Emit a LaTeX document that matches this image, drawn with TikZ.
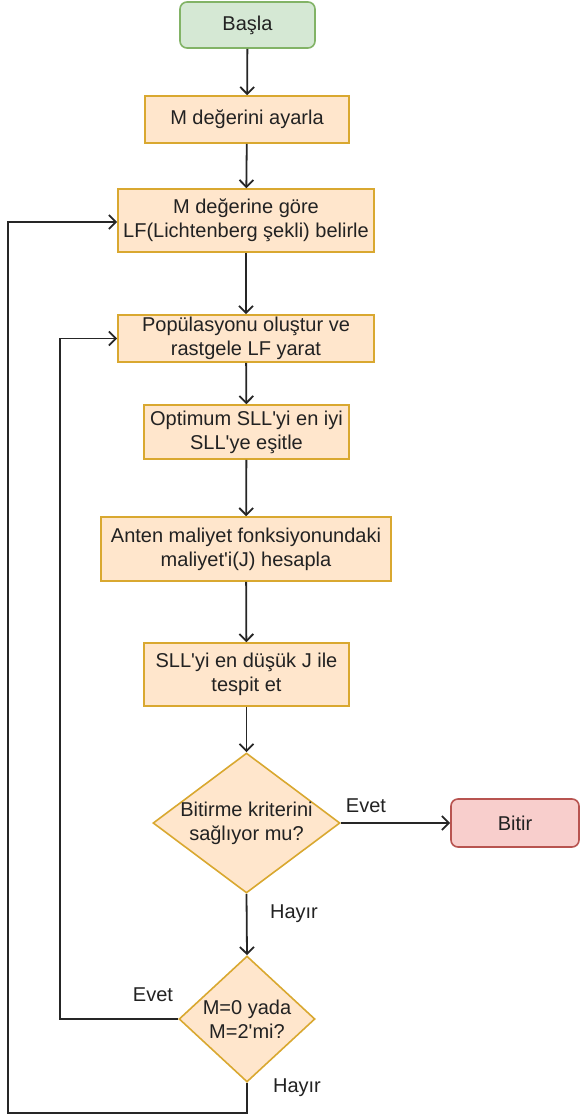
\documentclass[tikz,border=0pt]{standalone}
\usepackage{fontspec}
\setmainfont{Liberation Sans}
\usetikzlibrary{arrows.meta,shapes.geometric}

\definecolor{procfill}{HTML}{FFE6CC}
\definecolor{procline}{HTML}{D9A830}
\definecolor{startfill}{HTML}{D5E8D4}
\definecolor{startline}{HTML}{82B366}
\definecolor{endfill}{HTML}{F8CECC}
\definecolor{endline}{HTML}{B85450}
\definecolor{inkgray}{HTML}{222222}

\newcommand{\apos}{\textquotesingle}

\begin{document}
\begin{tikzpicture}[x=1pt,y=-1pt,
  font=\fontsize{20}{24}\selectfont,
  proc/.style={draw=procline, fill=procfill, line width=1.6pt, align=center,
               inner sep=0pt, text=inkgray},
  term/.style={rounded corners=7pt, line width=1.6pt, align=center,
               inner sep=0pt, text=inkgray},
  decide/.style={diamond, draw=procline, fill=procfill, line width=1.6pt,
                 inner sep=0pt},
  dtext/.style={align=center, inner sep=0pt, text=inkgray},
  lbl/.style={inner sep=0pt, text=inkgray},
  flow/.style={-{Straight Barb[length=7pt,width=14pt,line width=1.8pt]},
               line width=1.8pt, draw=black!85}]

\useasboundingbox (0,0) rectangle (580,1115);

% start / end terminals
\node[term, draw=startline, fill=startfill, minimum width=135, minimum height=46]
  (start) at (247.5,25) {Başla};
\node[term, draw=endline, fill=endfill, minimum width=128, minimum height=48]
  (stop) at (515,823) {Bitir};

% process steps
\node[proc, minimum width=204, minimum height=47] (setm) at (247,119.5)
  {M değerini ayarla};
\node[proc, minimum width=256, minimum height=63] (lf) at (246,220.5)
  {M değerine göre\\LF(Lichtenberg şekli) belirle};
\node[proc, minimum width=256, minimum height=47] (pop) at (246,338.5)
  {Popülasyonu oluştur ve\\rastgele LF yarat};
\node[proc, minimum width=205, minimum height=54] (opt) at (246.5,432)
  {Optimum SLL\apos yi en iyi\\SLL\apos ye eşitle};
\node[proc, minimum width=290, minimum height=64] (cost) at (246,549)
  {Anten maliyet fonksiyonundaki\\maliyet\apos i(J) hesapla};
\node[proc, minimum width=205, minimum height=63] (sll) at (246.5,674.5)
  {SLL\apos yi en düşük J ile\\tespit et};

% decisions
\node[decide, minimum width=187, minimum height=140] (crit) at (246.5,823) {};
\node[dtext] at (crit) {Bitirme kriterini\\sağlıyor mu?};
\node[decide, minimum width=136, minimum height=126] (mchk) at (247,1019) {};
\node[dtext] at (mchk) {M=0 yada\\M=2\apos mi?};

% helper points for the feedback loops
\coordinate (outerbot) at (mchk.south |- 0,1113);
\coordinate (outerleft) at (8,1113);
\coordinate (innerleft) at (60,1019);

% main flow
\draw[flow] (start) -- (setm);
\draw[flow] (setm) -- (lf);
\draw[flow] (lf) -- (pop);
\draw[flow] (pop) -- (opt);
\draw[flow] (opt) -- (cost);
\draw[flow] (cost) -- (sll);
\draw[flow] (sll) -- (crit);
\draw[flow] (crit.east) -- (stop.west);
\draw[flow] (crit.south) -- (mchk.north);

% feedback loops
\draw[flow] (mchk.west) -- (innerleft) |- (pop.west);
\draw[flow] (mchk.south) -- (outerbot) -- (outerleft) |- ([yshift=-1.5pt]lf.west);

% branch labels
\node[lbl] at (366,806) {Evet};
\node[lbl] at (294,914) {Hayır};
\node[lbl] at (153,995) {Evet};
\node[lbl] at (297,1088) {Hayır};

\end{tikzpicture}
\end{document}
